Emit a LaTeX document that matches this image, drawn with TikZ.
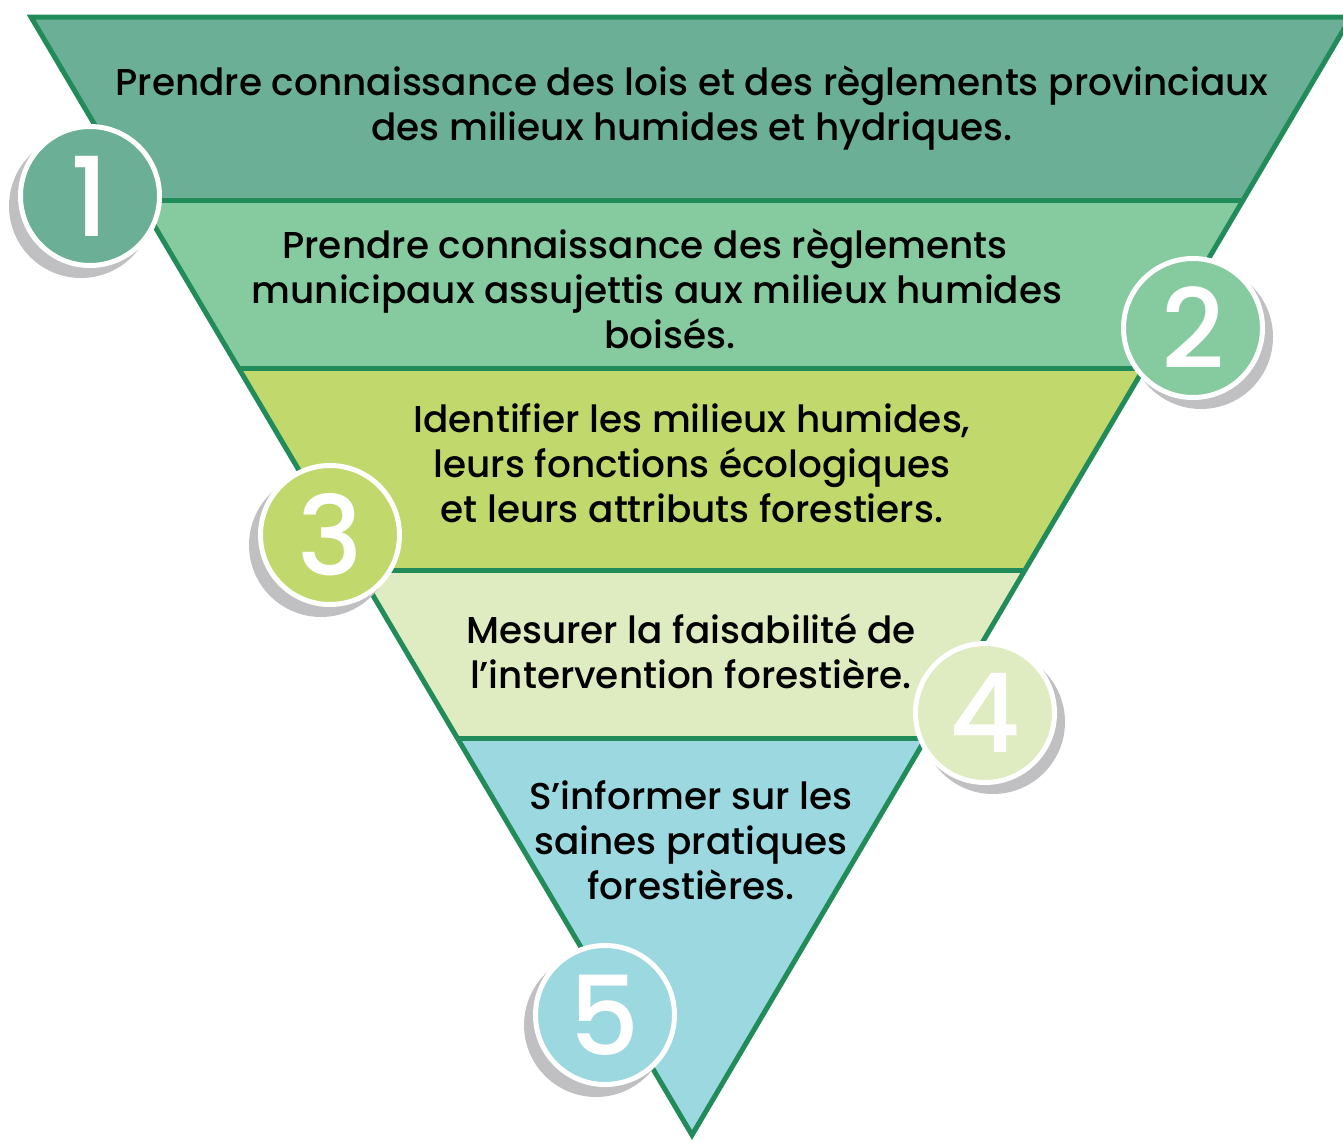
\documentclass[tikz,border=0pt]{standalone}
\usepackage{fontspec}
\setmainfont{Poppins}[UprightFont=* Medium]
\definecolor{edge}{HTML}{218C5A}
\definecolor{cA}{HTML}{6BAF96}
\definecolor{cB}{HTML}{86CB9F}
\definecolor{cC}{HTML}{C0D86C}
\definecolor{cD}{HTML}{DFEBC0}
\definecolor{cE}{HTML}{9BD8E0}
\definecolor{shade}{HTML}{C0C0C3}
\begin{document}
\begin{tikzpicture}[x=1pt,y=-1pt,
  band/.style={draw=edge,line width=5pt,line join=miter},
  btext/.style={align=center,font=\fontsize{37.4}{45}\selectfont,text=black,inner sep=0pt},
  badge/.style={circle,draw=white,line width=5pt,minimum size=139pt,inner sep=0pt,text=white,font=\fontsize{110}{110}\selectfont},
  shadow/.style={circle,fill=shade,minimum size=144pt,inner sep=0pt}]
\useasboundingbox (0,0) rectangle (1343,1143);
% geometry helpers
\coordinate (TL) at (31,17);
\coordinate (TR) at (1351,17);
\coordinate (AP) at (692,1135);
% band fills (left x = 31+(y-17)*0.591, right x = 1351-(y-17)*0.589)
\fill[cA] (31,17) -- (1351,17) -- (1243,200) -- (139,200) -- cycle;
\fill[cB] (139,200) -- (1243,200) -- (1144,368) -- (238,368) -- cycle;
\fill[cC] (238,368) -- (1144,368) -- (1025,570) -- (358,570) -- cycle;
\fill[cD] (358,570) -- (1025,570) -- (926,738) -- (457,738) -- cycle;
\fill[cE] (457,738) -- (926,738) -- (AP) -- cycle;
% dividers
\draw[edge,line width=5pt] (139,200) -- (1243,200);
\draw[edge,line width=5pt] (238,368) -- (1144,368);
\draw[edge,line width=5pt] (358,570) -- (1025,570);
\draw[edge,line width=5pt] (457,738) -- (926,738);
% outline
\draw[band] (TL) -- (TR) -- (AP) -- cycle;
% texts
\node[btext] (t1) at (692,108) {Prendre connaissance des lois et des règlements provinciaux\\des milieux humides et hydriques.};
\node[btext] (t2) at (657,289) {Prendre connaissance des règlements\hspace*{24pt}\\municipaux assujettis aux milieux humides\\\hspace*{26pt}boisés.};
\node[btext] (t3) at (692,463) {Identifier les milieux humides,\\leurs fonctions écologiques\\et leurs attributs forestiers.};
\node[btext] (t4) at (691,651) {Mesurer la faisabilité de\\l’intervention forestière.};
\node[btext] (t5) at (691,840) {S’informer sur les\\saines pratiques\\forestières.};
% badges
\node[shadow] (s1) at (81,206) {};
\node[badge,fill=cA] (b1) at (90,196) {1};
\node[shadow] (s2) at (1201,337) {};
\node[badge,fill=cB] (b2) at (1193,328) {2};
\node[shadow] (s3) at (321,545) {};
\node[badge,fill=cC] (b3) at (330,535) {3};
\node[shadow] (s4) at (993,722) {};
\node[badge,fill=cD] (b4) at (985,713) {4};
\node[shadow] (s5) at (596,1025) {};
\node[badge,fill=cE] (b5) at (605,1015) {5};
\end{tikzpicture}
\end{document}
